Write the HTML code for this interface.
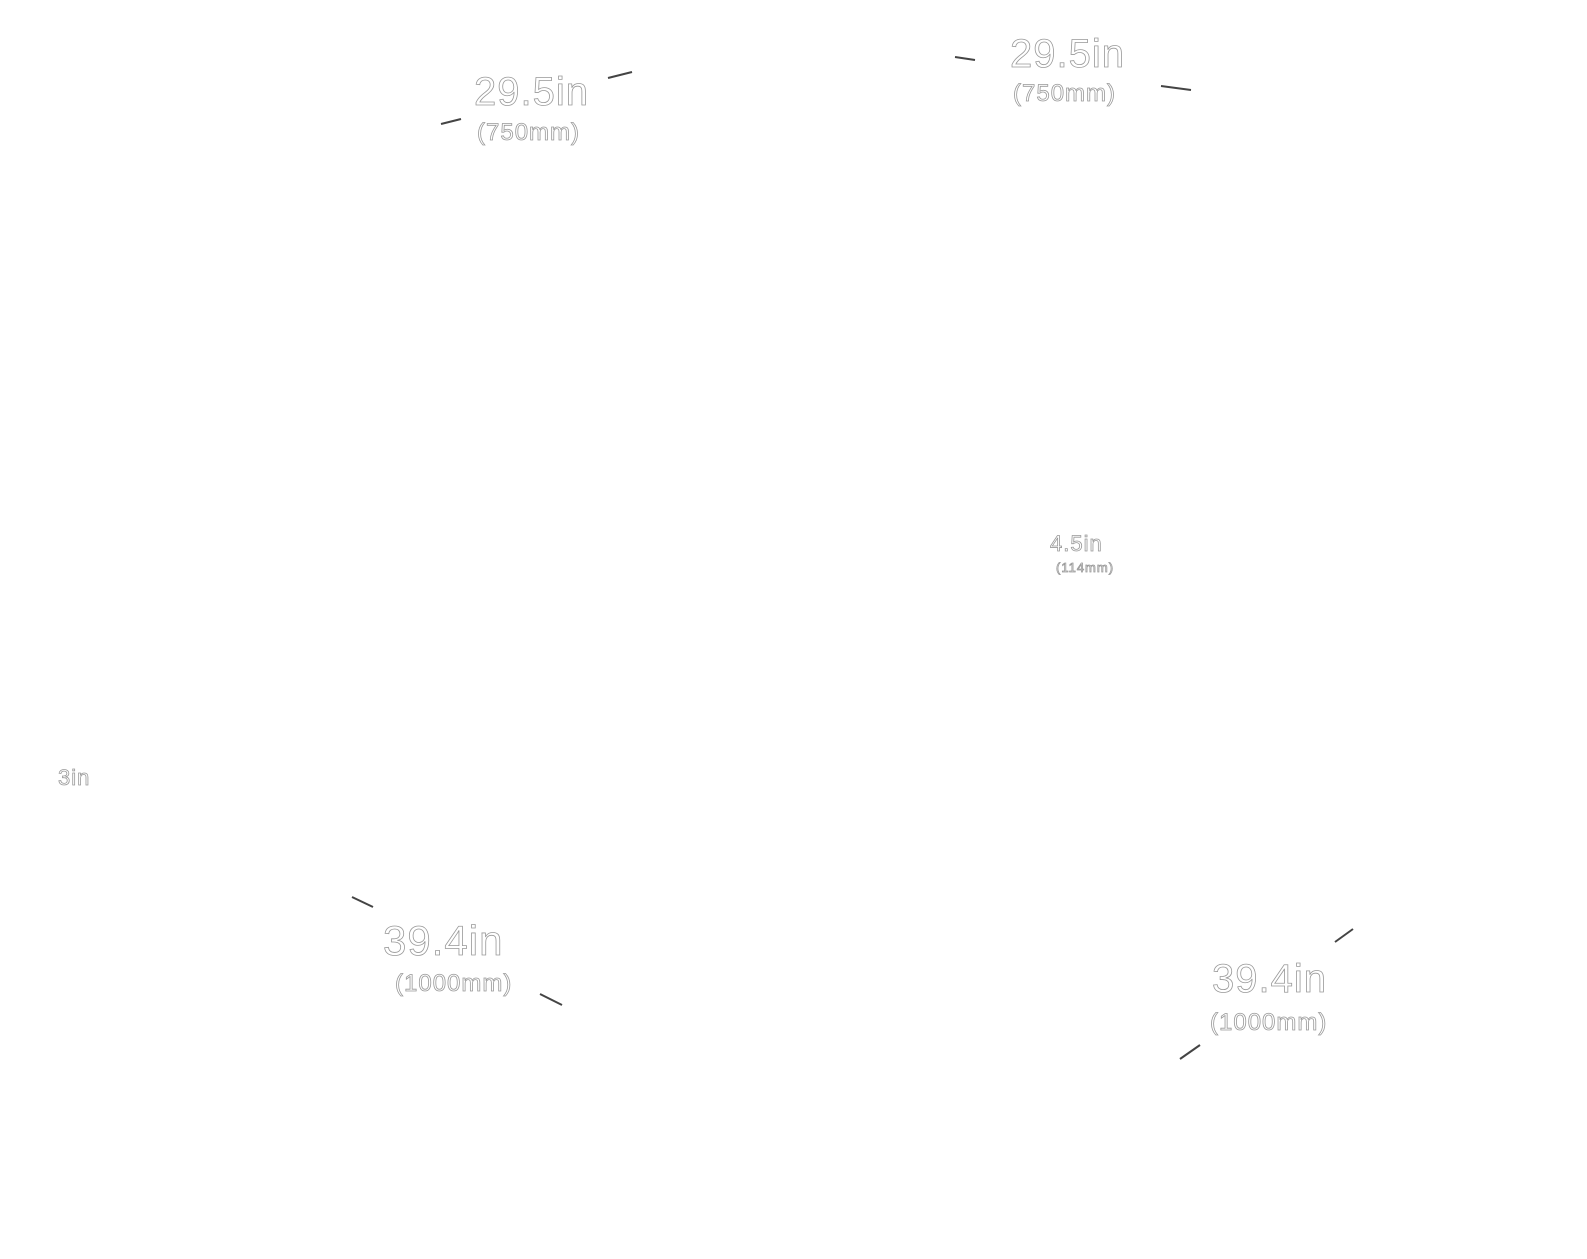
<!DOCTYPE html>
<html><head><style>
html,body{margin:0;padding:0;background:#fff;}
svg{display:block}
text{font-family:"Liberation Sans",sans-serif;fill:#fff;stroke:#999;stroke-width:0.8;letter-spacing:1px;}
</style></head><body>
<svg width="1587" height="1259" viewBox="0 0 1587 1259">
<g stroke="#444" stroke-width="2" fill="none">
<line x1="608" y1="78" x2="632" y2="72"/>
<line x1="441" y1="124" x2="461" y2="119"/>
<line x1="955" y1="57" x2="975" y2="60"/>
<line x1="1161" y1="86" x2="1191" y2="90"/>
<line x1="352" y1="897" x2="373" y2="907"/>
<line x1="540" y1="994" x2="562" y2="1005"/>
<line x1="1335" y1="942" x2="1353" y2="929"/>
<line x1="1180" y1="1059" x2="1200" y2="1045"/>
</g>
<text x="474" y="105" font-size="40">29.5in</text>
<text x="477" y="140" font-size="24">(750mm)</text>
<text x="1010" y="67" font-size="40">29.5in</text>
<text x="1013" y="101" font-size="24">(750mm)</text>
<text x="1050" y="551" font-size="22">4.5in</text>
<text x="1056" y="572" font-size="13">(114mm)</text>
<text x="58" y="785" font-size="22">3in</text>
<text x="383" y="955" font-size="42">39.4in</text>
<text x="395" y="991" font-size="24">(1000mm)</text>
<text x="1212" y="992" font-size="40">39.4in</text>
<text x="1210" y="1030" font-size="24">(1000mm)</text>
</svg>
</body></html>
